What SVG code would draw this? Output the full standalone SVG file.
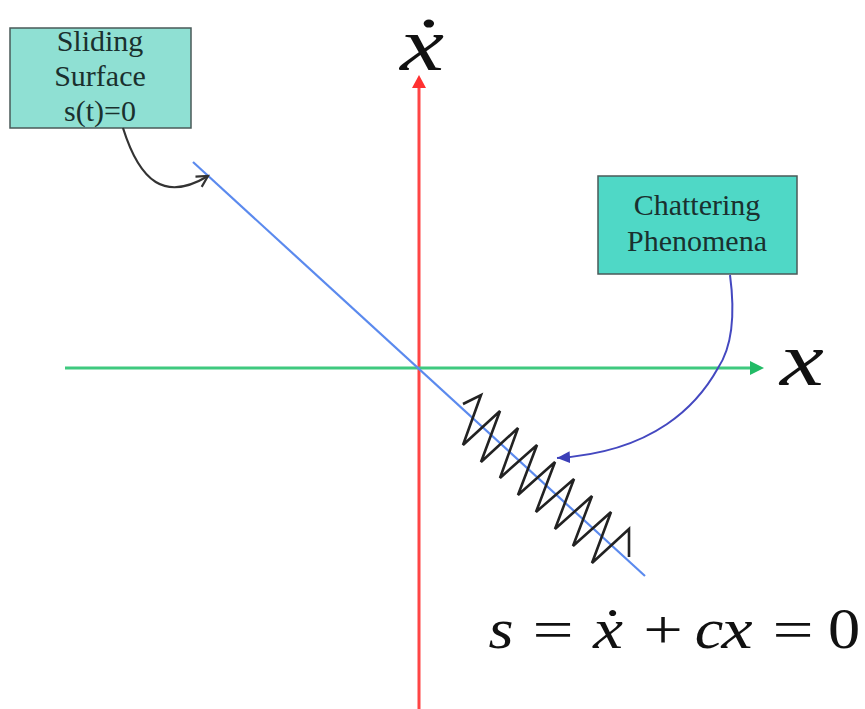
<svg xmlns="http://www.w3.org/2000/svg" width="865" height="709" viewBox="0 0 865 709">
<style>
.box{stroke:#4a5a58;stroke-width:1.5}
.lbl{font-family:"Liberation Serif","Times New Roman",serif;font-size:30px;fill:#1a302e;text-anchor:middle}
.math{font-family:"Liberation Serif","DejaVu Serif",serif;fill:#111;text-anchor:middle}
.it{font-style:italic}
</style>
<defs>
<marker id="openArrow" markerWidth="16" markerHeight="16" refX="12" refY="7" orient="auto" markerUnits="userSpaceOnUse">
<path d="M1,1 L12,7 L1,13" fill="none" stroke="#333" stroke-width="2.2"/>
</marker>
<marker id="blueArrow" markerWidth="16" markerHeight="14" refX="13" refY="6" orient="auto" markerUnits="userSpaceOnUse">
<path d="M0,0 L13,6 L0,12 Z" fill="#3b3fb8"/>
</marker>
</defs>

<g id="axes">
<line x1="419" y1="86" x2="419" y2="709" stroke="#ff4545" stroke-width="3"/>
<polygon points="419,75 412,88 426,88" fill="#ff3030"/>
<line x1="65" y1="368" x2="752" y2="368" stroke="#3fc97f" stroke-width="3"/>
<polygon points="764,368 750,361 750,375" fill="#22bb66"/>
<text class="math it" x="422" y="70" font-size="76" transform="translate(422 70) scale(1.3 1) translate(-422 -70)">ẋ</text>
<text class="math it" x="802" y="385" font-size="76" transform="translate(802 385) scale(1.3 1) translate(-802 -385)">x</text>
</g>

<g id="sliding-line">
<line x1="193" y1="162" x2="645" y2="576" stroke="#5b8aee" stroke-width="2.2"/>
</g>

<g id="zigzag">
<polyline fill="none" stroke="#222" stroke-width="2.6" stroke-linejoin="miter" points="463,404 481,395 463,445 500,411 481,462 518,428 500,478 537,445 518,495 555,462 536,512 574,479 555,529 592,496 573,546 611,512 592,563 629,529 629,557"/>
</g>

<g id="node-sliding">
<rect class="box" x="10" y="28" width="181" height="100" fill="#8fe0d3"/>
<text class="lbl" x="100" y="51">Sliding</text>
<text class="lbl" x="100" y="86">Surface</text>
<text class="lbl" x="100" y="121">s(t)=0</text>
</g>

<g id="node-chattering">
<rect class="box" x="598" y="176" width="199" height="98" fill="#4fd8c6"/>
<text class="lbl" x="697" y="215">Chattering</text>
<text class="lbl" x="697" y="251">Phenomena</text>
</g>

<g id="connectors">
<path d="M123,128 C140,182 165,202 208,176" fill="none" stroke="#333" stroke-width="2.2" marker-end="url(#openArrow)"/>
<path d="M730,275 C736,320 730,350 718,368 C698,404 655,452 557,458" fill="none" stroke="#4448c0" stroke-width="2" marker-end="url(#blueArrow)"/>
</g>

<g id="equation">
<text class="math it" x="501" y="648" font-size="56" transform="translate(501 648) scale(1.15 1) translate(-501 -648)">s</text>
<text class="math" x="553" y="648" font-size="54" transform="translate(553 648) scale(1.35 1) translate(-553 -648)">=</text>
<text class="math it" x="608" y="648" font-size="56" transform="translate(608 648) scale(1.2 1) translate(-608 -648)">ẋ</text>
<text class="math" x="663" y="648" font-size="54" transform="translate(663 648) scale(1.3 1) translate(-663 -648)">+</text>
<text class="math it" x="709" y="648" font-size="56" transform="translate(709 648) scale(1.15 1) translate(-709 -648)">c</text>
<text class="math it" x="737" y="648" font-size="56" transform="translate(737 648) scale(1.25 1) translate(-737 -648)">x</text>
<text class="math" x="793" y="648" font-size="54" transform="translate(793 648) scale(1.35 1) translate(-793 -648)">=</text>
<text class="math" x="844" y="648" font-size="56" transform="translate(844 648) scale(1.15 1) translate(-844 -648)">0</text>
</g>
</svg>
